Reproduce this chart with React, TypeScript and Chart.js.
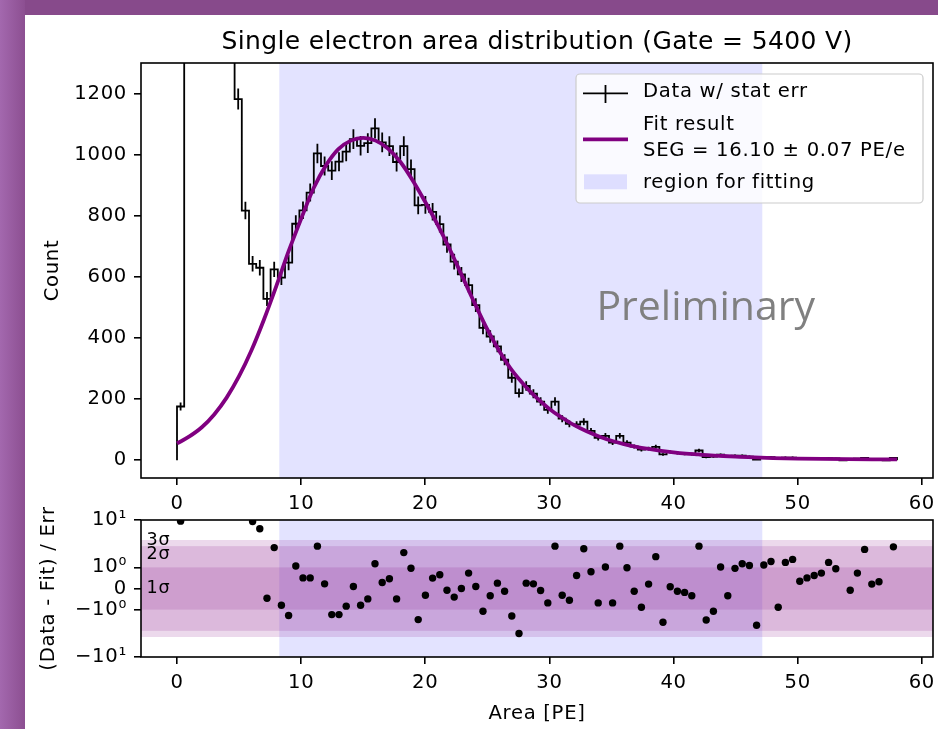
import React, { useEffect, useRef } from 'react';
import { Chart, LinearScale, registerables } from 'chart.js';

Chart.register(...registerables);

// ---------------- data ----------------
const titleText = 'Single electron area distribution (Gate = 5400 V)';
const histRange = [0, 58];
const counts = [
  176, 5200, 9800, 8600, 6100, 3900, 2600, 1750, 1182, 817,
  643, 630, 528, 625, 598, 647, 774, 818, 876, 1004,
  963, 948, 977, 1010, 1051, 1029, 1038, 1086, 1040, 1028,
  976, 1028, 953, 834, 836, 813, 773, 706, 650, 608,
  573, 508, 433, 405, 373, 329, 270, 220, 243, 218,
  192, 165, 192, 136, 119, 117, 126, 96, 73, 80,
  58, 80, 58, 45, 35, 38, 44, 19, 27, 24,
  21, 20, 32, 10, 12, 18, 12, 15, 15, 12,
  2, 10, 10, 4, 9, 9, 6, 6, 6, 6,
  7, 6, 0, 3, 5, 8, 3, 3, 0, 8,
];
const residuals: (number | null)[] = [
  9.5, 75, 98, 92, 77, 60, 48, 37, 27, 17.4,
  9.3, 6.7, -0.41, 2.8, -0.75, -1.4, 1.08, 0.45, 0.45, 3.0,
  0.19, -1.33, -1.33, -0.8, 0.08, -0.75, -0.44, 1.23, 0.25, 0.41,
  -0.44, 2.2, 0.95, -1.73, -0.28, 0.44, 0.6, -0.07, -0.36, 0,
  0.68, 0.08, -1.1, -0.3, 0.22, -0.11, -1.44, -3.4, 0.22, 0.19,
  -0.08, -0.63, 3.0, -0.28, -0.5, 0.56, 2.65, 0.75, -0.63, 1.02,
  -0.63, 3.0, 0.98, -0.11, -0.86, 0.18, 1.8, -1.98, 0.07, -0.11,
  -0.16, -0.3, 3.0, -1.76, -1.1, 1.02, -0.3, 0.94, 1.23, 1.12,
  -2.3, 1.15, 1.4, -0.86, 1.33, 1.56, 0.3, 0.45, 0.56, 0.68,
  1.33, 0.92, null, -0.07, 0.68, 2.57, 0.18, 0.28, null, 2.9,
];
const fitX = [
  0, 1, 2, 3, 4, 5, 6, 7, 8, 9, 10, 11, 12, 13, 14, 15, 16, 17, 18, 19,
  20, 21, 22, 23, 24, 25, 26, 27, 28, 29, 30, 31, 32, 33, 34, 35, 36, 37, 38, 39,
  40, 41, 42, 43, 44, 45, 46, 47, 48, 50, 52, 54, 56, 58,
];
const fitY = [
  55, 78, 108, 150, 205, 275, 360, 460, 570, 685, 790, 890, 965, 1018, 1046, 1055, 1046, 1020, 976, 915,
  845, 770, 688, 600, 512, 428, 355, 293, 245, 203, 168, 140, 115, 95, 78, 64, 53, 44, 37, 31,
  26, 22, 19, 16, 14, 12, 10, 8.5, 7.3, 5.6, 4.5, 3.7, 3.1, 2.7,
];
const xTicks = [0, 10, 20, 30, 40, 50, 60];
const countTicks = [0, 200, 400, 600, 800, 1000, 1200];
const resTicks = [-10, -1, 0, 1, 10];
const resTickLabels = ['\u221210\u00b9', '\u221210\u2070', '0', '10\u2070', '10\u00b9'];
const fitRegion = [8.24, 47.15];
const sigmaBands = [4, 3, 1];
const sigmaLabels = ['1\u03c3', '2\u03c3', '3\u03c3'];
const sigmaLabelY = [0, 2, 4];
const sigmaLabelX = -2.45;
const legendItems = ['Data w/ stat err', 'Fit result', 'SEG = 16.10 \u00b1 0.07 PE/e', 'region for fitting'];
const prelimText = 'Preliminary';

// ---------------- derived ----------------
const nBins = counts.length;
const binW = (histRange[1] - histRange[0]) / nBins;
const edges = counts.map((_, i) => histRange[0] + i * binW).concat([histRange[1]]);
const centers = counts.map((_, i) => (edges[i] + edges[i + 1]) / 2);
const stepPts: { x: number; y: number }[] = [{ x: edges[0], y: 0 }];
counts.forEach((c, i) => {
  stepPts.push({ x: edges[i], y: c }, { x: edges[i + 1], y: c });
});
stepPts.push({ x: edges[nBins], y: 0 });
const errPts: { x: number; y: number | null }[] = [];
counts.forEach((c, i) => {
  const e = Math.sqrt(c);
  errPts.push({ x: centers[i], y: c - e }, { x: centers[i], y: c + e }, { x: centers[i], y: null });
});
const fitPts = fitX.map((x, i) => ({ x, y: fitY[i] }));
const resPts = residuals.map((r, i) => ({ x: centers[i], y: r }));

// ---------------- asinh (symlog-like) scale ----------------
const A0 = 0.9;
class AsinhScale extends LinearScale {
  static id = 'asinh';
  static defaults = {};
  configure() {
    super.configure();
    const s: any = this;
    s._tMin = Math.asinh(this.min / A0);
    s._tRange = Math.asinh(this.max / A0) - s._tMin;
  }
  getPixelForValue(value: number) {
    if (value === null || value === undefined || isNaN(value)) return NaN;
    const s: any = this;
    return this.getPixelForDecimal((Math.asinh(value / A0) - s._tMin) / s._tRange);
  }
  getValueForPixel(pixel: number) {
    const s: any = this;
    return A0 * Math.sinh(s._tMin + this.getDecimalForPixel(pixel) * s._tRange);
  }
}
Chart.register(AsinhScale as any);

// ---------------- styling ----------------
const FONT = "'DejaVu Sans', sans-serif";
const FS = 19.6;
Chart.defaults.font.family = FONT;
Chart.defaults.font.size = FS;
Chart.defaults.color = '#000';
const regionColor = 'rgba(0,0,255,0.11)';
const bandColor = 'rgba(128,0,128,0.15)';
const purple = '#800080';

const spacingPlugin = {
  id: 'spacing',
  beforeDraw(chart: any) {
    chart.ctx.letterSpacing = '0.7px';
  },
};

const regionPlugin = {
  id: 'region',
  beforeDatasetsDraw(chart: any) {
    const { ctx, chartArea: a, scales } = chart;
    const x0 = scales.x.getPixelForValue(fitRegion[0]);
    const x1 = scales.x.getPixelForValue(fitRegion[1]);
    ctx.save();
    ctx.fillStyle = regionColor;
    ctx.fillRect(x0, a.top, x1 - x0, a.bottom - a.top);
    ctx.restore();
  },
};

const framePlugin = {
  id: 'frame',
  afterDatasetsDraw(chart: any) {
    const { ctx, chartArea: a } = chart;
    ctx.save();
    ctx.strokeStyle = '#000';
    ctx.lineWidth = 1.6;
    ctx.strokeRect(a.left, a.top, a.right - a.left, a.bottom - a.top);
    ctx.restore();
  },
};

const bandsPlugin = {
  id: 'bands',
  beforeDatasetsDraw(chart: any) {
    const { ctx, chartArea: a, scales } = chart;
    ctx.save();
    ctx.fillStyle = bandColor;
    sigmaBands.forEach((b) => {
      const y0 = scales.y.getPixelForValue(b);
      const y1 = scales.y.getPixelForValue(-b);
      ctx.fillRect(a.left, y0, a.right - a.left, y1 - y0);
    });
    ctx.fillStyle = '#000';
    ctx.font = `17.6px ${FONT}`;
    ctx.textAlign = 'left';
    ctx.textBaseline = 'middle';
    sigmaLabels.forEach((t, i) => {
      ctx.fillText(t, scales.x.getPixelForValue(sigmaLabelX), scales.y.getPixelForValue(sigmaLabelY[i]));
    });
    ctx.restore();
  },
};

const legendPlugin = {
  id: 'customLegend',
  afterDraw(chart: any) {
    const { ctx, chartArea: a } = chart;
    ctx.save();
    // title
    ctx.letterSpacing = '0.35px';
    ctx.fillStyle = '#000';
    ctx.font = `25px ${FONT}`;
    ctx.textAlign = 'center';
    ctx.textBaseline = 'alphabetic';
    ctx.fillText(titleText, (a.left + a.right) / 2, a.top - 14);
    ctx.letterSpacing = '0.7px';
    const bw = 347, bh = 129;
    const bx = a.right - 10 - bw, by = a.top + 11;
    ctx.beginPath();
    ctx.roundRect(bx, by, bw, bh, 4);
    ctx.fillStyle = 'rgba(255,255,255,0.8)';
    ctx.fill();
    ctx.strokeStyle = '#cccccc';
    ctx.lineWidth = 1.2;
    ctx.stroke();
    const hx0 = bx + 7, hx1 = bx + 52, tx = bx + 67;
    ctx.strokeStyle = '#000';
    ctx.lineWidth = 1.8;
    ctx.beginPath();
    ctx.moveTo(hx0, by + 19.3);
    ctx.lineTo(hx1, by + 19.3);
    ctx.moveTo((hx0 + hx1) / 2, by + 11);
    ctx.lineTo((hx0 + hx1) / 2, by + 29);
    ctx.stroke();
    ctx.strokeStyle = purple;
    ctx.lineWidth = 3.8;
    ctx.beginPath();
    ctx.moveTo(hx0, by + 65.3);
    ctx.lineTo(hx1, by + 65.3);
    ctx.stroke();
    ctx.fillStyle = regionColor;
    ctx.fillRect(bx + 8, by + 100.3, 43, 15);
    ctx.fillStyle = '#000';
    ctx.font = `${FS}px ${FONT}`;
    ctx.textAlign = 'left';
    ctx.textBaseline = 'middle';
    ctx.fillText(legendItems[0], tx, by + 18.2);
    ctx.fillText(legendItems[1], tx, by + 50.9);
    ctx.fillText(legendItems[2], tx, by + 76.5);
    ctx.fillText(legendItems[3], tx, by + 108.7);
    // Preliminary watermark
    ctx.letterSpacing = '0px';
    ctx.fillStyle = '#808080';
    ctx.font = "41px 'Open Sans', sans-serif";
    ctx.textBaseline = 'alphabetic';
    ctx.fillText(prelimText, a.left + 0.575 * (a.right - a.left), a.top + 0.62 * (a.bottom - a.top));
    ctx.restore();
  },
};

function xScaleOpts(height: number, withTitle: boolean) {
  return {
    type: 'linear',
    min: -2.9,
    max: 60.9,
    afterBuildTicks: (s: any) => { s.ticks = xTicks.map((v) => ({ value: v })); },
    afterFit: (s: any) => { s.height = height; s.paddingLeft = 0; s.paddingRight = 0; },
    grid: { drawOnChartArea: false, drawTicks: true, tickLength: 7, color: '#000', lineWidth: 1.6 },
    border: { display: false },
    ticks: { padding: 7.2, color: '#000', font: { size: FS }, maxRotation: 0, autoSkip: false, callback: (v: any) => String(v) },
    title: withTitle
      ? { display: true, text: 'Area [PE]', color: '#000', font: { size: FS }, padding: { top: 0, bottom: 3 } }
      : { display: false },
  };
}

function topConfig(): any {
  return {
    type: 'line',
    data: {
      datasets: [
        { data: fitPts, borderColor: purple, borderWidth: 3.8, pointRadius: 0, cubicInterpolationMode: 'monotone', fill: false, order: 0 },
        { data: errPts, borderColor: '#000', borderWidth: 1.8, pointRadius: 0, spanGaps: false, fill: false, order: 1 },
        { data: stepPts, borderColor: '#000', borderWidth: 1.8, pointRadius: 0, tension: 0, fill: false, order: 2 },
      ],
    },
    options: {
      responsive: false,
      animation: false,
      devicePixelRatio: 1,
      events: [],
      layout: { padding: { left: 0, right: 5, top: 63, bottom: 0 } },
      plugins: {
        legend: { display: false },
        tooltip: { enabled: false },
        title: { display: false },
      },
      scales: {
        x: xScaleOpts(42, false),
        y: {
          type: 'linear',
          min: -58,
          max: 1300,
          afterBuildTicks: (s: any) => { s.ticks = countTicks.map((v) => ({ value: v })); },
          afterFit: (s: any) => { s.width = 141; s.paddingTop = 0; s.paddingBottom = 0; },
          grid: { drawOnChartArea: false, drawTicks: true, tickLength: 7, color: '#000', lineWidth: 1.6 },
          border: { display: false },
          ticks: { padding: 7, color: '#000', font: { size: FS }, callback: (v: any) => String(v) },
          title: { display: true, text: 'Count', color: '#000', font: { size: FS }, padding: { top: 40.7, bottom: 0 } },
        },
      },
    },
    plugins: [spacingPlugin, regionPlugin, framePlugin, legendPlugin],
  };
}

function botConfig(): any {
  return {
    type: 'scatter',
    data: {
      datasets: [
        { data: resPts, pointRadius: 3.7, backgroundColor: '#000', borderWidth: 0, clip: 0 },
      ],
    },
    options: {
      responsive: false,
      animation: false,
      devicePixelRatio: 1,
      events: [],
      layout: { padding: { left: 0, right: 5, top: 30, bottom: 0 } },
      plugins: { legend: { display: false }, tooltip: { enabled: false } },
      scales: {
        x: xScaleOpts(72, true),
        y: {
          type: 'asinh',
          min: -10,
          max: 10,
          afterBuildTicks: (s: any) => { s.ticks = resTicks.map((v) => ({ value: v })); },
          afterFit: (s: any) => { s.width = 141; s.paddingTop = 0; s.paddingBottom = 0; },
          grid: { drawOnChartArea: false, drawTicks: true, tickLength: 7, color: '#000', lineWidth: 1.6 },
          border: { display: false },
          ticks: { padding: 7, color: '#000', font: { size: FS }, callback: (_v: any, i: number) => resTickLabels[i] },
          title: { display: true, text: '(Data - Fit) / Err', color: '#000', font: { size: FS }, padding: { top: 37.5, bottom: 0 } },
        },
      },
    },
    plugins: [spacingPlugin, regionPlugin, bandsPlugin, framePlugin],
  };
}

export default function App() {
  const topRef = useRef<HTMLCanvasElement>(null);
  const botRef = useRef<HTMLCanvasElement>(null);
  useEffect(() => {
    const c1 = new Chart(topRef.current as HTMLCanvasElement, topConfig());
    const c2 = new Chart(botRef.current as HTMLCanvasElement, botConfig());
    return () => {
      c1.destroy();
      c2.destroy();
    };
  }, []);
  return (
    <div style={{ position: 'absolute', left: 0, top: 0, width: 938, height: 729, background: '#874a8b', overflow: 'hidden' }}>
      <div style={{ position: 'absolute', left: 0, top: 0, width: 25, height: 729, background: 'linear-gradient(to right, #a368ae, #8c4f91)' }} />
      <div style={{ position: 'absolute', left: 25, top: 15, width: 913, height: 714, background: '#ffffff' }} />
      <canvas ref={topRef} width={938} height={520} style={{ position: 'absolute', left: 0, top: 0, width: 938, height: 520 }} />
      <canvas ref={botRef} width={938} height={239} style={{ position: 'absolute', left: 0, top: 490, width: 938, height: 239 }} />
    </div>
  );
}
